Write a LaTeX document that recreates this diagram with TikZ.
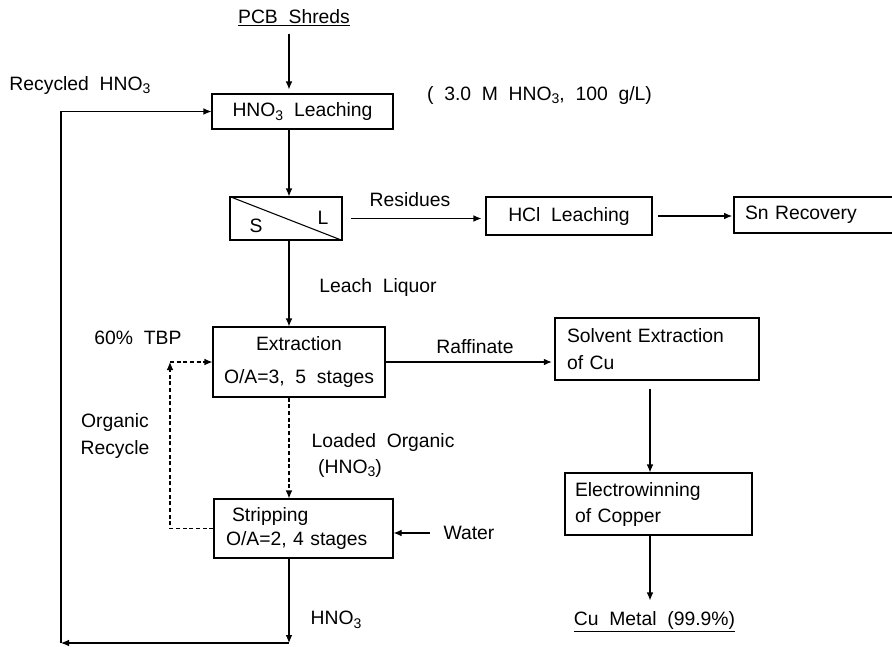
\documentclass[tikz,border=0pt]{standalone}
\usepackage{fontspec}
\setmainfont{Liberation Sans}[WordSpace=2]
\usetikzlibrary{arrows.meta}

\newcommand{\hno}{HNO\raisebox{-0.35ex}{\fontsize{10.5}{11}\selectfont 3}}

\tikzset{every picture/.style={line width=0.8pt}}
\tikzset{
  lbl/.style={font=\fontsize{14.5}{18}\selectfont, inner sep=0pt},
  box/.style={lbl, draw},
  flow/.style={-{Latex[length=6pt,width=5pt]}},
  recyc/.style={flow, dash pattern=on 3pt off 2pt},
}

\begin{document}
\begin{tikzpicture}[x=0.75pt,y=0.75pt,yscale=-1,xscale=1]
\useasboundingbox (0,0) rectangle (892,646);
\clip (0,0) rectangle (892,646);

% columns of the flows
\coordinate (col) at (289,0);
\coordinate (cucol) at (650,0);

%Shape: Rectangle [leach]
\node [box, minimum width=181*0.75pt, minimum height=35*0.75pt] (leach) at (302.5,111.5) {\hno{} Leaching};
%Shape: Rectangle [S/L separation]
\node [box, minimum width=112*0.75pt, minimum height=43*0.75pt] (sl) at (286,218.5) {};
\draw (sl.north west) -- (sl.south east);
\node [lbl] (slS) at (256,226) {S};
\node [lbl] (slL) at (323,218) {L};
%Shape: Rectangle [hcl]
\node [box, minimum width=166*0.75pt, minimum height=38*0.75pt] (hcl) at (569,216) {HCl Leaching};
%Shape: Rectangle [sn]
\node [box, align=left, text width=149*0.75pt, inner xsep=11*0.75pt, minimum height=36*0.75pt] (sn) at (819.5,215) {Sn Recovery};
%Shape: Rectangle [extr]
\node [box, align=center, minimum width=172*0.75pt, minimum height=70*0.75pt] (extr) at (299,362) {Extraction\\[6.5pt]O/A=3, 5 stages};
%Shape: Rectangle [strip]
\node [box, align=left, text width=155*0.75pt, inner xsep=12*0.75pt, minimum height=59*0.75pt] (strip) at (303.5,528.5) {\hspace{4.5pt}Stripping\\O/A=2, 4 stages};
%Shape: Rectangle [solv]
\node [box, align=left, text width=180*0.75pt, inner xsep=12*0.75pt, minimum height=62*0.75pt] (solv) at (657,349) {Solvent Extraction\\[2.25pt]of Cu};
%Shape: Rectangle [elec]
\node [box, align=left, text width=167*0.75pt, inner xsep=10*0.75pt, minimum height=62*0.75pt] (elec) at (658.5,504) {Electrowinning\\[1.5pt]of Copper};

% Text Node
\node [lbl] (pcb) at (294,18) {\underline{PCB Shreds}};
% Text Node
\node [lbl] (rec) at (80,85) {Recycled \hno};
% Text Node
\node [lbl] (cond) at (539.5,95) {( 3.0 M \hno, 100 g/L)};
% Text Node
\node [lbl] (resid) at (410,200) {Residues};
% Text Node
\node [lbl] (liq) at (378,287) {Leach Liquor};
% Text Node
\node [lbl] (tbp) at (138,338) {60\% TBP};
% Text Node
\node [lbl] (raff) at (475,347) {Raffinate};
% Text Node
\node [lbl, align=center] (orgrec) at (115,436) {Organic\\[2pt]Recycle};
% Text Node
\node [lbl, align=left, anchor=west] (loaded) at (311,455) {Loaded Organic\\[1.5pt]\hspace{5pt}(\hno)};
% Text Node
\node [lbl] (water) at (469,533) {Water};
% Text Node
\node [lbl] (acid) at (336,620) {\hno};
% Text Node
\node [lbl] (cu) at (654.5,622) {\underline{Cu Metal (99.9\%)}};

%Straight Lines [main flow]
\draw [flow, shorten <=5pt, shorten >=3pt] (pcb.south -| col) -- (leach.north -| col);
\draw [flow] (leach.south -| col) -- (sl.north -| col);
\draw [flow] (sl.south -| col) -- (extr.north -| col);
\draw [flow, shorten <=6pt, shorten >=3pt] (sl.east) -- (sl.east -| hcl.west);
\draw [flow, shorten <=4pt, shorten >=1pt] (hcl.east) -- (hcl.east -| sn.west);
\draw [flow, shorten >=2pt] (extr.east) -- (extr.east -| solv.west);
\draw [flow, shorten <=6pt] (solv.south -| cucol) -- (elec.north -| cucol);
\draw [flow, shorten >=8pt] (elec.south -| cucol) -- (cu.north -| cucol);

%Straight Lines [organic loop]
\coordinate (tbpin) at (170,362);
\draw [recyc] (extr.south -| col) -- (strip.north -| col);
\draw [recyc] (strip.west) -| (tbpin);
\draw [recyc] (tbpin) -- (extr.west);
\draw [flow, shorten <=10pt] (water.west) -- (water.west -| strip.east);

%Straight Lines [acid recycle]
\coordinate (retR) at (289,643);
\coordinate (retL) at (61,643);
\draw [flow] (strip.south -| col) -- (retR);
\draw [flow] (retR) -- (retL);
\draw [flow] (retL) -- (leach.west -| retL) -- (leach.west);

\end{tikzpicture}
\end{document}
